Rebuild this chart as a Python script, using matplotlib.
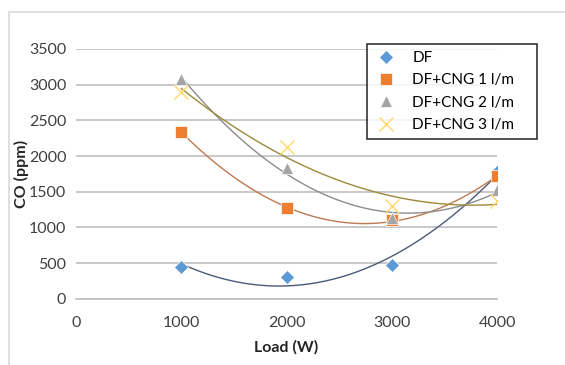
import matplotlib.pyplot as plt
import numpy as np
from matplotlib.patches import Rectangle

plt.rcParams['font.family'] = ['Lato', 'DejaVu Sans']

load = [1000, 2000, 3000, 4000]
co_df = [450, 310, 470, 1780]
co_cng1 = [2340, 1270, 1100, 1720]
co_cng2 = [3080, 1830, 1130, 1520]
co_cng3 = [2900, 2120, 1300, 1370]
labels = ['DF', 'DF+CNG 1 l/m', 'DF+CNG 2 l/m', 'DF+CNG 3 l/m']

series = [co_df, co_cng1, co_cng2, co_cng3]
markers = ['D', 's', '^', 'x']
msizes = [7, 9, 8, 10]
colors = ['#5B9BD5', '#ED7D31', '#A5A5A5', '#FFD966']
trend_colors = ['#4A5A78', '#C07850', '#8C8C8C', '#9C8A3A']

fig = plt.figure(figsize=(5.65, 3.65), dpi=100)
ax = fig.add_axes([0.1345, 0.181, 0.7455, 0.685])

# outer chart border
fig.patches.append(Rectangle((9/565, -0.1), 1.0, 1 - 12/365 + 0.1, transform=fig.transFigure,
                             fill=False, edgecolor='#D9D9D9', linewidth=1.2))

# trendlines (2nd order polynomial, as in the original spreadsheet)
xs = np.linspace(1000, 4000, 200)
for y, c in zip(series, trend_colors):
    p = np.polyfit(load, y, 2)
    ax.plot(xs, np.polyval(p, xs), color=c, linewidth=1.0, zorder=2)

for y, m, ms, c, lab in zip(series, markers, msizes, colors, labels):
    if m == 'x':
        ax.plot(load, y, linestyle='none', marker=m, markersize=ms, color=c,
                markeredgewidth=1.0, label=lab, zorder=3)
    else:
        ax.plot(load, y, linestyle='none', marker=m, markersize=ms, color=c,
                markeredgecolor='white', markeredgewidth=0.5, label=lab, zorder=3)

ax.set_xlim(0, 4000)
ax.set_ylim(0, 3500)
ax.set_xticks([0, 1000, 2000, 3000, 4000])
ax.set_yticks(range(0, 3501, 500))
ax.yaxis.grid(True, color='#BFBFBF', linewidth=1.2)
ax.set_axisbelow(True)
for s in ['top', 'right', 'left']:
    ax.spines[s].set_visible(False)
ax.spines['bottom'].set_color('#BFBFBF')
ax.spines['bottom'].set_linewidth(1.2)
ax.tick_params(length=0, labelsize=11.5, colors='#404040')
ax.tick_params(axis='x', pad=12)
ax.tick_params(axis='y', pad=7)
ax.set_xlabel('Load (W)', fontsize=11.5, fontweight='bold', color='#262626')
ax.set_ylabel('CO (ppm)', fontsize=11.5, fontweight='bold', color='#262626')
ax.xaxis.set_label_coords(0.5, -0.165)
ax.yaxis.set_label_coords(-0.112, 0.5)

leg = fig.legend(loc='upper left', bbox_to_anchor=(0.65, 0.644, 0.301, 0.235),
                 mode='expand', fontsize=11,
                 frameon=True, fancybox=False, handletextpad=0.9, borderpad=0.45,
                 labelspacing=0.55, borderaxespad=0, handlelength=1.6)
leg.get_frame().set_edgecolor('black')
leg.get_frame().set_linewidth(1.2)

plt.savefig('out.png')
